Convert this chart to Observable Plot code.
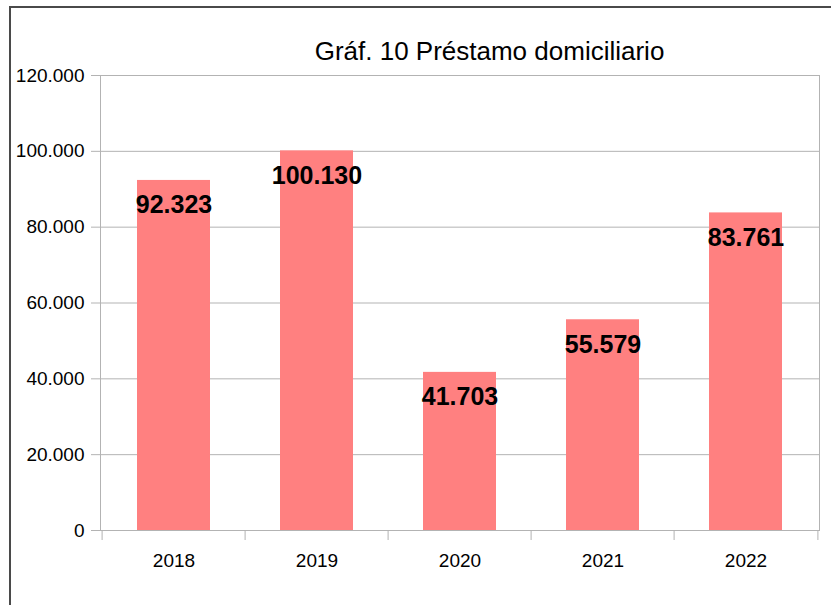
<!DOCTYPE html>
<html>
<head>
<meta charset="utf-8">
<script src="https://cdn.jsdelivr.net/npm/d3@7"></script>
<script src="https://cdn.jsdelivr.net/npm/@observablehq/plot@0.6"></script>
<style>
  html, body { margin: 0; padding: 0; background: #fff; }
  #wrap { position: relative; width: 831px; height: 605px; overflow: hidden; font-family: "Liberation Sans", Arial, sans-serif; }
  #frameTop { position: absolute; left: 9px; top: 6px; width: 822px; height: 0; border-top: 2px solid #4a4a4a; }
  #frameLeft { position: absolute; left: 9px; top: 6px; width: 0; height: 599px; border-left: 2px solid #4a4a4a; }
  #title { position: absolute; left: 130px; width: 719px; top: 34px; text-align: center; font-size: 26px; color: #000; line-height: 34px; }
  #chart { position: absolute; left: 0; top: 0; }
</style>
</head>
<body>
<div id="wrap">
  <div id="frameTop"></div>
  <div id="frameLeft"></div>
  <div id="chart"></div>
  <div id="title">Gráf. 10 Préstamo domiciliario</div>
</div>
<script>
const years = ["2018", "2019", "2020", "2021", "2022"];
const values = [92323, 100130, 41703, 55579, 83761];
const yTicks = [0, 20000, 40000, 60000, 80000, 100000, 120000];

const data = years.map((y, i) => ({year: y, value: values[i]}));
const loc = d3.formatLocale({decimal: ",", thousands: ".", grouping: [3], currency: ["", ""]});
const fmt = loc.format(",d");

const W = 831, H = 605, mL = 100, mR = 12, mT = 75, mB = 75;
const step = (W - mL - mR) / years.length;
const grid = "#b3b3b3";

const chart = Plot.plot({
  width: W,
  height: H,
  marginLeft: mL,
  marginRight: mR,
  marginTop: mT,
  marginBottom: mB,
  style: {fontFamily: "Liberation Sans, Arial, sans-serif", background: "transparent", color: "#000"},
  x: {domain: years, paddingInner: 0.49, paddingOuter: 0.245, label: null},
  y: {domain: [0, 120000], label: null},
  marks: [
    Plot.gridY(yTicks, {stroke: grid, strokeOpacity: 1}),
    Plot.frame({stroke: grid}),
    Plot.barY(data, {x: "year", y: "value", fill: "#ff8080"}),
    Plot.ruleX(years, {x: d => d, dx: -step / 2, stroke: grid, insetTop: H - mT - mB, insetBottom: -10}),
    Plot.ruleX(years.slice(-1), {x: d => d, dx: step / 2, stroke: grid, insetTop: H - mT - mB, insetBottom: -10}),
    Plot.axisY({ticks: yTicks, tickFormat: fmt, tickSize: 9, tickPadding: 7, fontSize: 19, stroke: grid, color: "#000", label: null}),
    Plot.axisX({tickSize: 0, tickPadding: 23, fontSize: 19, label: null}),
    Plot.text(data, {x: "year", y: "value", text: d => fmt(d.value), dy: 25, fontSize: 25, fontWeight: "bold", fill: "#000", lineAnchor: "middle"})
  ]
});
document.getElementById("chart").appendChild(chart);
</script>
</body>
</html>
